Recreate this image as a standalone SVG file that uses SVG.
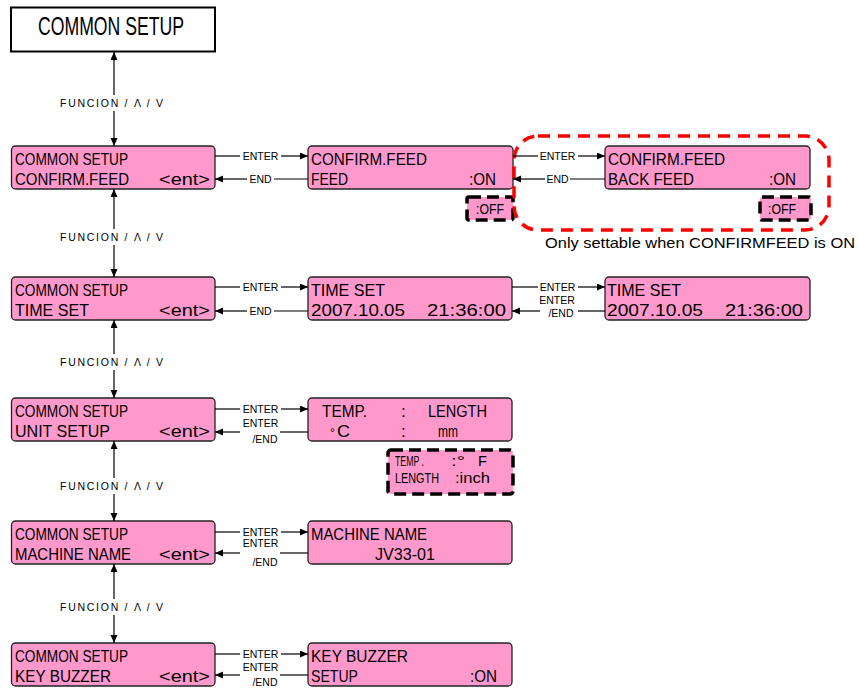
<svg xmlns="http://www.w3.org/2000/svg" width="858" height="688" viewBox="0 0 858 688">
<style>
.node{fill:#FF99CC;stroke:#222;stroke-width:1.3}
.t{font-family:"Liberation Sans",Arial,sans-serif;font-size:17.3px;fill:#000}
.s{font-family:"Liberation Sans",Arial,sans-serif;font-size:14px;fill:#000}
.lbl{font-family:"Liberation Sans",Arial,sans-serif;font-size:10.5px;fill:#000;text-anchor:middle}
.ln{stroke:#000;stroke-width:1.2;fill:none}
.dash{fill:#FF99CC;stroke:#000;stroke-width:3.5;stroke-dasharray:12 6}
</style>
<defs>
<marker id="ah" markerUnits="userSpaceOnUse" markerWidth="9" markerHeight="8" refX="8" refY="3.5" orient="auto">
<path d="M0,0 L8,3.5 L0,7 z" fill="#000"/>
</marker>
</defs>

<g id="title">
<rect x="11" y="7.5" width="204" height="44" fill="#fff" stroke="#000" stroke-width="2"/>
<text x="38" y="34.5" font-family="Liberation Sans,Arial,sans-serif" font-size="26" textLength="146" lengthAdjust="spacingAndGlyphs">COMMON SETUP</text>
</g>

<g id="n1">
<rect class="node" x="11.5" y="146" width="203.5" height="43" rx="4"/>
<text class="t" x="15" y="165.2" textLength="113" lengthAdjust="spacingAndGlyphs">COMMON SETUP</text>
<text class="t" x="15" y="184.7" textLength="114" lengthAdjust="spacingAndGlyphs">CONFIRM.FEED</text>
<text class="t" x="159" y="184.7" textLength="51" lengthAdjust="spacingAndGlyphs">&lt;ent&gt;</text>
</g>
<g id="n1b">
<rect class="node" x="308" y="146" width="205" height="43" rx="4"/>
<text class="t" x="311" y="165.2" textLength="116" lengthAdjust="spacingAndGlyphs">CONFIRM.FEED</text>
<text class="t" x="311" y="184.7" textLength="37" lengthAdjust="spacingAndGlyphs">FEED</text>
<text class="t" x="469" y="184.7" textLength="27" lengthAdjust="spacingAndGlyphs">:ON</text>
</g>
<g id="off1">
<rect class="dash" x="467" y="197" width="46" height="23" rx="2"/>
<text class="s" x="476" y="213.5" textLength="28" lengthAdjust="spacingAndGlyphs">:OFF</text>
</g>
<g id="n1c">
<rect class="node" x="605" y="146" width="205" height="43" rx="4"/>
<text class="t" x="608" y="165.2" textLength="117" lengthAdjust="spacingAndGlyphs">CONFIRM.FEED</text>
<text class="t" x="608" y="184.7" textLength="86" lengthAdjust="spacingAndGlyphs">BACK FEED</text>
<text class="t" x="769" y="184.7" textLength="27" lengthAdjust="spacingAndGlyphs">:ON</text>
</g>
<g id="off2">
<rect class="dash" x="760" y="197" width="51" height="23" rx="2"/>
<text class="s" x="768" y="213.5" textLength="28" lengthAdjust="spacingAndGlyphs">:OFF</text>
</g>
<g id="note">
<rect x="514" y="136" width="315" height="94" rx="24" fill="none" stroke="#FF0000" stroke-width="3.5" stroke-dasharray="12 8"/>
<text x="545" y="248" font-family="Liberation Sans,Arial,sans-serif" font-size="14" textLength="310" lengthAdjust="spacingAndGlyphs">Only settable when CONFIRMFEED is ON</text>
</g>

<g id="n2">
<rect class="node" x="11.5" y="277" width="203.5" height="43" rx="4"/>
<text class="t" x="15" y="296.2" textLength="113" lengthAdjust="spacingAndGlyphs">COMMON SETUP</text>
<text class="t" x="15" y="315.7" textLength="74" lengthAdjust="spacingAndGlyphs">TIME SET</text>
<text class="t" x="159" y="315.7" textLength="51" lengthAdjust="spacingAndGlyphs">&lt;ent&gt;</text>
</g>
<g id="n2b">
<rect class="node" x="308" y="277" width="204" height="43" rx="4"/>
<text class="t" x="311" y="296.2" textLength="74" lengthAdjust="spacingAndGlyphs">TIME SET</text>
<text class="t" x="311" y="315.7" textLength="94" lengthAdjust="spacingAndGlyphs">2007.10.05</text>
<text class="t" x="427" y="315.7" textLength="79" lengthAdjust="spacingAndGlyphs">21:36:00</text>
</g>
<g id="n2c">
<rect class="node" x="605" y="277" width="205" height="43" rx="4"/>
<text class="t" x="607" y="296.2" textLength="74" lengthAdjust="spacingAndGlyphs">TIME SET</text>
<text class="t" x="607" y="315.7" textLength="96" lengthAdjust="spacingAndGlyphs">2007.10.05</text>
<text class="t" x="725" y="315.7" textLength="78" lengthAdjust="spacingAndGlyphs">21:36:00</text>
</g>

<g id="n3">
<rect class="node" x="11.5" y="398" width="203.5" height="43" rx="4"/>
<text class="t" x="15" y="417.2" textLength="113" lengthAdjust="spacingAndGlyphs">COMMON SETUP</text>
<text class="t" x="15" y="436.7" textLength="95" lengthAdjust="spacingAndGlyphs">UNIT SETUP</text>
<text class="t" x="159" y="436.7" textLength="51" lengthAdjust="spacingAndGlyphs">&lt;ent&gt;</text>
</g>
<g id="n3b">
<rect class="node" x="308" y="398" width="204" height="43" rx="4"/>
<text class="t" x="322" y="417.2" textLength="45" lengthAdjust="spacingAndGlyphs">TEMP.</text>
<text class="t" x="401" y="417.2">:</text>
<text class="t" x="428" y="417.2" textLength="59" lengthAdjust="spacingAndGlyphs">LENGTH</text>
<text class="t" x="330" y="436.7" style="font-size:12px">°</text>
<text class="t" x="337" y="436.7" textLength="13" lengthAdjust="spacingAndGlyphs">C</text>
<text class="t" x="401" y="436.7">:</text>
<text class="t" x="438" y="436.7" style="font-size:16px" textLength="20" lengthAdjust="spacingAndGlyphs">mm</text>
</g>
<g id="unitopt">
<rect class="dash" x="388" y="450" width="125" height="44" rx="3"/>
<text class="s" x="395" y="466" textLength="29" lengthAdjust="spacingAndGlyphs">TEMP .</text>
<text class="s" x="451" y="466" textLength="14" lengthAdjust="spacingAndGlyphs">:°</text>
<text class="s" x="478" y="466" textLength="9" lengthAdjust="spacingAndGlyphs">F</text>
<text class="s" x="395" y="482.5" textLength="44" lengthAdjust="spacingAndGlyphs">LENGTH</text>
<text class="s" x="455" y="482.5" textLength="35" lengthAdjust="spacingAndGlyphs">:inch</text>
</g>

<g id="n4">
<rect class="node" x="11.5" y="521" width="203.5" height="43" rx="4"/>
<text class="t" x="15" y="540.2" textLength="113" lengthAdjust="spacingAndGlyphs">COMMON SETUP</text>
<text class="t" x="15" y="559.7" textLength="116" lengthAdjust="spacingAndGlyphs">MACHINE NAME</text>
<text class="t" x="159" y="559.7" textLength="51" lengthAdjust="spacingAndGlyphs">&lt;ent&gt;</text>
</g>
<g id="n4b">
<rect class="node" x="308" y="521" width="204" height="43" rx="4"/>
<text class="t" x="311" y="540.2" textLength="116" lengthAdjust="spacingAndGlyphs">MACHINE NAME</text>
<text class="t" x="375" y="559.7" textLength="60" lengthAdjust="spacingAndGlyphs">JV33-01</text>
</g>

<g id="n5">
<rect class="node" x="11.5" y="643" width="203.5" height="43" rx="4"/>
<text class="t" x="15" y="662.2" textLength="113" lengthAdjust="spacingAndGlyphs">COMMON SETUP</text>
<text class="t" x="15" y="681.7" textLength="96" lengthAdjust="spacingAndGlyphs">KEY BUZZER</text>
<text class="t" x="159" y="681.7" textLength="51" lengthAdjust="spacingAndGlyphs">&lt;ent&gt;</text>
</g>
<g id="n5b">
<rect class="node" x="308" y="643" width="204" height="43" rx="4"/>
<text class="t" x="311" y="662.2" textLength="97" lengthAdjust="spacingAndGlyphs">KEY BUZZER</text>
<text class="t" x="311" y="681.7" textLength="47" lengthAdjust="spacingAndGlyphs">SETUP</text>
<text class="t" x="470" y="681.7" textLength="27" lengthAdjust="spacingAndGlyphs">:ON</text>
</g>

<g id="connectors">
<line class="ln" x1="114" y1="95" x2="114" y2="52" marker-end="url(#ah)"/>
<line class="ln" x1="114" y1="111" x2="114" y2="146" marker-end="url(#ah)"/>
<text class="lbl" x="111.5" y="107" textLength="103" lengthAdjust="spacing">FUNCION / Λ / V</text>
<line class="ln" x1="114" y1="229" x2="114" y2="189" marker-end="url(#ah)"/>
<line class="ln" x1="114" y1="245" x2="114" y2="277" marker-end="url(#ah)"/>
<text class="lbl" x="111.5" y="241" textLength="103" lengthAdjust="spacing">FUNCION / Λ / V</text>
<line class="ln" x1="114" y1="354" x2="114" y2="320" marker-end="url(#ah)"/>
<line class="ln" x1="114" y1="370" x2="114" y2="398" marker-end="url(#ah)"/>
<text class="lbl" x="111.5" y="366" textLength="103" lengthAdjust="spacing">FUNCION / Λ / V</text>
<line class="ln" x1="114" y1="478" x2="114" y2="441" marker-end="url(#ah)"/>
<line class="ln" x1="114" y1="494" x2="114" y2="521" marker-end="url(#ah)"/>
<text class="lbl" x="111.5" y="490" textLength="103" lengthAdjust="spacing">FUNCION / Λ / V</text>
<line class="ln" x1="114" y1="599" x2="114" y2="564" marker-end="url(#ah)"/>
<line class="ln" x1="114" y1="615" x2="114" y2="643" marker-end="url(#ah)"/>
<text class="lbl" x="111.5" y="611" textLength="103" lengthAdjust="spacing">FUNCION / Λ / V</text>

<line class="ln" x1="215" y1="156" x2="240" y2="156"/>
<line class="ln" x1="281" y1="156" x2="308" y2="156" marker-end="url(#ah)"/>
<text class="lbl" x="260.5" y="160">ENTER</text>
<line class="ln" x1="308" y1="179" x2="274" y2="179"/>
<line class="ln" x1="247" y1="179" x2="215" y2="179" marker-end="url(#ah)"/>
<text class="lbl" x="260.5" y="183">END</text>
<line class="ln" x1="513" y1="156" x2="538" y2="156"/>
<line class="ln" x1="578" y1="156" x2="605" y2="156" marker-end="url(#ah)"/>
<text class="lbl" x="557.5" y="160">ENTER</text>
<line class="ln" x1="605" y1="179" x2="570" y2="179"/>
<line class="ln" x1="545" y1="179" x2="513" y2="179" marker-end="url(#ah)"/>
<text class="lbl" x="557.5" y="183">END</text>

<line class="ln" x1="215" y1="287" x2="240" y2="287"/>
<line class="ln" x1="281" y1="287" x2="308" y2="287" marker-end="url(#ah)"/>
<text class="lbl" x="260.5" y="291">ENTER</text>
<line class="ln" x1="308" y1="311" x2="274" y2="311"/>
<line class="ln" x1="247" y1="311" x2="215" y2="311" marker-end="url(#ah)"/>
<text class="lbl" x="260.5" y="315">END</text>
<line class="ln" x1="512" y1="287" x2="538" y2="287"/>
<line class="ln" x1="578" y1="287" x2="605" y2="287" marker-end="url(#ah)"/>
<text class="lbl" x="557.5" y="291">ENTER</text>
<line class="ln" x1="605" y1="311" x2="578" y2="311"/>
<line class="ln" x1="540" y1="311" x2="512" y2="311" marker-end="url(#ah)"/>
<text class="lbl" x="557" y="304">ENTER</text>
<text class="lbl" x="561" y="317">/END</text>

<line class="ln" x1="215" y1="409" x2="240" y2="409"/>
<line class="ln" x1="281" y1="409" x2="308" y2="409" marker-end="url(#ah)"/>
<text class="lbl" x="260.5" y="413">ENTER</text>
<line class="ln" x1="308" y1="432" x2="280" y2="432"/>
<line class="ln" x1="240" y1="432" x2="215" y2="432" marker-end="url(#ah)"/>
<text class="lbl" x="260.5" y="427">ENTER</text>
<text class="lbl" x="265" y="443">/END</text>

<line class="ln" x1="215" y1="532" x2="240" y2="532"/>
<line class="ln" x1="281" y1="532" x2="308" y2="532" marker-end="url(#ah)"/>
<text class="lbl" x="260.5" y="536">ENTER</text>
<line class="ln" x1="308" y1="553" x2="280" y2="553"/>
<line class="ln" x1="240" y1="553" x2="215" y2="553" marker-end="url(#ah)"/>
<text class="lbl" x="260.5" y="547">ENTER</text>
<text class="lbl" x="265" y="566">/END</text>

<line class="ln" x1="215" y1="654" x2="240" y2="654"/>
<line class="ln" x1="281" y1="654" x2="308" y2="654" marker-end="url(#ah)"/>
<text class="lbl" x="260.5" y="658">ENTER</text>
<line class="ln" x1="308" y1="675" x2="280" y2="675"/>
<line class="ln" x1="240" y1="675" x2="215" y2="675" marker-end="url(#ah)"/>
<text class="lbl" x="260.5" y="671">ENTER</text>
<text class="lbl" x="265" y="686">/END</text>
</g>
</svg>
